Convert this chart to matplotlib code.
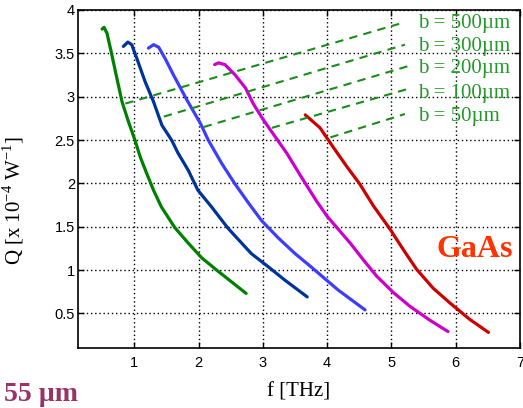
import matplotlib
matplotlib.use("Agg")
import matplotlib.pyplot as plt

# ---- data ----
green_f = [0.50, 0.53, 0.576, 0.64, 0.73, 0.81, 0.91, 1.01, 1.09, 1.19, 1.30, 1.42, 1.63, 1.84, 2.05, 2.28, 2.74]
green_q = [3.78, 3.80, 3.73, 3.52, 3.21, 2.94, 2.71, 2.50, 2.31, 2.12, 1.92, 1.73, 1.49, 1.31, 1.14, 1.00, 0.73]

navy_f = [0.83, 0.90, 0.96, 1.04, 1.17, 1.30, 1.43, 1.58, 1.68, 1.84, 1.99, 2.20, 2.46, 2.82, 3.08, 3.34, 3.69]
navy_q = [3.58, 3.63, 3.60, 3.44, 3.17, 2.94, 2.67, 2.50, 2.35, 2.15, 1.92, 1.73, 1.48, 1.19, 1.04, 0.885, 0.69]

blue_f = [1.22, 1.30, 1.38, 1.48, 1.61, 1.82, 2.03, 2.15, 2.36, 2.56, 2.77, 2.98, 3.24, 3.50, 3.76, 4.17, 4.59]
blue_q = [3.56, 3.60, 3.57, 3.44, 3.25, 2.96, 2.69, 2.50, 2.23, 2.00, 1.78, 1.57, 1.37, 1.19, 1.03, 0.77, 0.54]

magenta_f = [2.25, 2.31, 2.41, 2.57, 2.73, 2.85, 3.01, 3.19, 3.37, 3.61, 3.84, 4.00, 4.36, 4.56, 4.77, 5.03, 5.29, 5.60, 5.88]
magenta_q = [3.37, 3.39, 3.37, 3.25, 3.10, 2.92, 2.73, 2.54, 2.35, 2.06, 1.79, 1.62, 1.31, 1.12, 0.93, 0.74, 0.58, 0.42, 0.29]

red_f = [3.66, 3.89, 4.12, 4.31, 4.51, 4.72, 4.98, 5.19, 5.39, 5.65, 5.91, 6.22, 6.51]
red_q = [2.79, 2.64, 2.39, 2.19, 1.99, 1.74, 1.47, 1.23, 1.01, 0.79, 0.62, 0.43, 0.28]

b_labels = ["b = 500\u00b5m", "b = 300\u00b5m", "b = 200\u00b5m", "b = 100\u00b5m", "b = 50\u00b5m"]
b_start_f = [0.86, 1.46, 2.08, 3.14, 4.05]
b_start_q = [2.92, 2.77, 2.65, 2.64, 2.53]
b_end_f = [5.12, 5.21, 5.25, 5.26, 5.21]
b_end_q = [3.84, 3.60, 3.35, 3.09, 2.80]
b_label_f = [5.42, 5.42, 5.42, 5.42, 5.42]
b_label_q = [3.84, 3.58, 3.32, 3.04, 2.77]

x_ticks = [1, 2, 3, 4, 5, 6, 7]
y_ticks = [0.5, 1, 1.5, 2, 2.5, 3, 3.5, 4]
y_tick_labels = ["0.5", "1", "1.5", "2", "2.5", "3", "3.5", "4"]

# ---- figure ----
fig = plt.figure(figsize=(5.23, 4.08), dpi=100)
ax = fig.add_axes([0.1486, 0.147, 0.9942 - 0.1486, 0.9755 - 0.147])

serif = ["Liberation Serif", "DejaVu Serif"]
sans = ["Liberation Sans", "DejaVu Sans"]

lw = 2.3
kw = dict(lw=lw, solid_capstyle="round", solid_joinstyle="round")
ax.plot(green_f, green_q, color="#008000", **kw)
ax.plot(navy_f, navy_q, color="#003399", **kw)
ax.plot(blue_f, blue_q, color="#3d3dff", **kw)
ax.plot(magenta_f, magenta_q, color="#cc00cc", **kw)
ax.plot(red_f, red_q, color="#cc0000", **kw)

for i in range(len(b_labels)):
    ax.plot([b_start_f[i], b_end_f[i]], [b_start_q[i], b_end_q[i]],
            color="#1a8c1a", lw=1.5, ls=(0, (4, 3)))
    ax.text(b_label_f[i], b_label_q[i], b_labels[i], color="#22992a",
            fontsize=15, family=serif, ha="left", va="center")

ax.set_xlim(0.12, 7)
ax.set_ylim(0.1, 4)
ax.set_xticks(x_ticks)
ax.set_yticks(y_ticks)
ax.set_xticklabels([str(t) for t in x_ticks], family=sans, fontsize=10.5)
ax.set_yticklabels(y_tick_labels, family=sans, fontsize=10.5)
ax.tick_params(direction="in", length=4, width=1, top=True, right=True)
ax.tick_params(axis="y", pad=2)
ax.tick_params(axis="x", pad=6)
ax.grid(True, color="black", ls=(0, (1, 2)), lw=1.0)
for s in ax.spines.values():
    s.set_linewidth(1.2)
    s.set_color("black")

ax.set_xlabel("f [THz]", family=serif, fontsize=15)
ax.xaxis.set_label_coords(0.5, -0.102)
ax.set_ylabel(r"Q [x 10$^{\mathregular{-4}}$ W$^{\mathregular{-1}}$]", family=serif, fontsize=15)
ax.yaxis.set_label_coords(-0.117, 0.435)

ax.text(0.984, 0.29, "GaAs", transform=ax.transAxes, color="#ff3300",
        fontsize=23, fontweight="bold", family=serif, ha="right", va="center")

fig.text(78 / 523, 0.016, "55 \u00b5m", color="#993366", fontsize=20,
         fontweight="bold", family=serif, ha="right", va="baseline")

fig.savefig("out.png", dpi=100)
